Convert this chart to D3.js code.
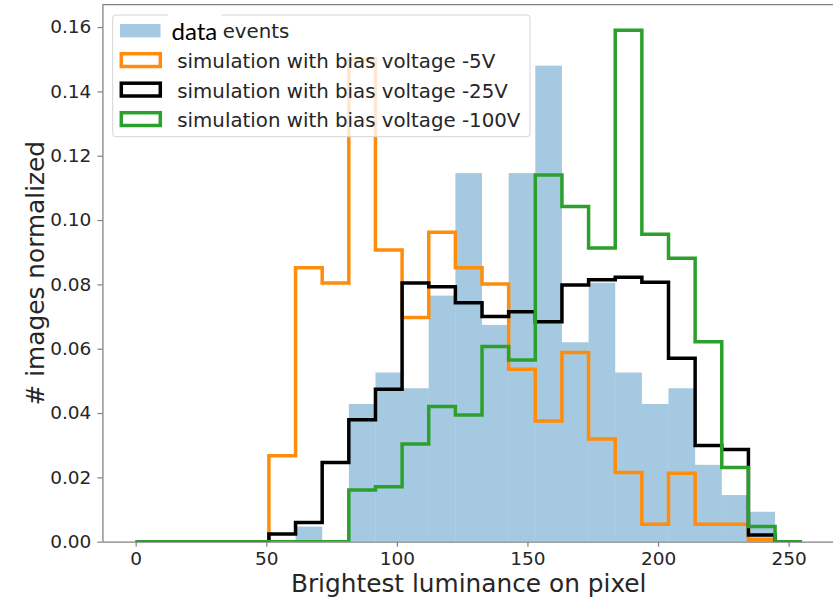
<!DOCTYPE html>
<html>
<head>
<meta charset="utf-8">
<script src="https://cdn.jsdelivr.net/npm/d3@7"></script>
<style>
  body { margin: 0; background: #fff; }
  svg { display: block; }
</style>
</head>
<body>
<svg id="chart" width="833" height="599"></svg>
<script>
// Histogram bin edges (25 bins over 0..255)
const binEdges = [0, 10.2, 20.4, 30.6, 40.8, 51, 61.2, 71.4, 81.6, 91.8, 102, 112.2, 122.4,
  132.6, 142.8, 153, 163.2, 173.4, 183.6, 193.8, 204, 214.2, 224.4, 234.6, 244.8, 255];

// Normalized counts per bin
const dataEvents = [0, 0, 0, 0, 0, 0, 0.0047, 0, 0.0428, 0.0526, 0.0477, 0.0765, 0.1146,
  0.0674, 0.1146, 0.148, 0.062, 0.0805, 0.0526, 0.0428, 0.0477, 0.0239, 0.0145, 0.0093, 0];
const bias5V = [0, 0, 0, 0, 0, 0.0267, 0.0852, 0.0804, 0.150, 0.0907, 0.0697, 0.0962, 0.0852,
  0.0801, 0.0536, 0.0375, 0.0588, 0.0319, 0.0215, 0.0054, 0.0213, 0.0054, 0.0054, 0.0006, 0];
const bias25V = [0, 0, 0, 0, 0, 0.0024, 0.006, 0.0246, 0.0379, 0.0474, 0.0804, 0.0793, 0.0743,
  0.070, 0.0715, 0.0684, 0.0798, 0.0814, 0.0822, 0.0807, 0.057, 0.0299, 0.0287, 0.0021, 0];
const bias100V = [0, 0, 0, 0, 0, 0, 0, 0, 0.0161, 0.0171, 0.0304, 0.042, 0.0394,
  0.0607, 0.0565, 0.114, 0.1042, 0.0913, 0.159, 0.0956, 0.0881, 0.0622, 0.0231, 0.0047, 0];

const xTicks = [0, 50, 100, 150, 200, 250];
const yTicks = [0, 0.02, 0.04, 0.06, 0.08, 0.10, 0.12, 0.14, 0.16];

const stepSeries = [
  { label: "simulation with bias voltage -5V", values: bias5V, color: "#ff8c0a" },
  { label: "simulation with bias voltage -25V", values: bias25V, color: "#000000" },
  { label: "simulation with bias voltage -100V", values: bias100V, color: "#2ca02c" }
];

const svg = d3.select("#chart");
const plotLeft = 102.4, plotRight = 835, plotTop = 4.7, plotBottom = 541.7;

const x = d3.scaleLinear().domain([-12.75, 267.75]).range([plotLeft, plotRight]);
const y = d3.scaleLinear().domain([0, 0.16695]).range([plotBottom, plotTop]);

svg.append("defs").append("clipPath").attr("id", "plotClip")
  .append("rect").attr("x", plotLeft).attr("y", plotTop)
  .attr("width", plotRight - plotLeft).attr("height", plotBottom - plotTop);

const plot = svg.append("g").attr("clip-path", "url(#plotClip)");

// Filled histogram of measured events
plot.append("g").selectAll("rect")
  .data(dataEvents.map((v, i) => ({ x0: binEdges[i], x1: binEdges[i + 1], v })))
  .join("rect")
  .attr("x", d => x(d.x0))
  .attr("width", d => x(d.x1) - x(d.x0))
  .attr("y", d => y(d.v))
  .attr("height", d => y(0) - y(d.v))
  .attr("fill", "#1f77b4")
  .attr("fill-opacity", 0.4);

// Step outlines for the simulations
function stepPoints(values) {
  const pts = [[binEdges[0], 0]];
  values.forEach((v, i) => {
    pts.push([binEdges[i], v]);
    pts.push([binEdges[i + 1], v]);
  });
  pts.push([binEdges[binEdges.length - 1], 0]);
  return pts;
}
const line = d3.line().x(d => x(d[0])).y(d => y(d[1]));

stepSeries.forEach(s => {
  plot.append("path")
    .attr("d", line(stepPoints(s.values)))
    .attr("fill", "none")
    .attr("stroke", s.color)
    .attr("stroke-width", 3.5)
    .attr("stroke-linejoin", "miter");
});

// Axes
const axisColor = "#808080";
const textColor = "#262626";
const tickFont = "DejaVu Sans";

const xAxis = svg.append("g").attr("transform", `translate(0,${plotBottom})`)
  .call(d3.axisBottom(x).tickValues(xTicks).tickSize(5).tickSizeOuter(0).tickPadding(5).tickFormat(d3.format("d")));
const yAxis = svg.append("g").attr("transform", `translate(${plotLeft},0)`)
  .call(d3.axisLeft(y).tickValues(yTicks).tickSize(5).tickSizeOuter(0).tickPadding(6).tickFormat(d3.format(".2f")));

[xAxis, yAxis].forEach(a => {
  a.select(".domain").attr("stroke", axisColor).attr("stroke-width", 1.3);
  a.selectAll(".tick line").attr("stroke", axisColor).attr("stroke-width", 1.2);
  a.selectAll(".tick text").attr("fill", textColor)
    .style("font-family", tickFont).style("font-size", "18.5px");
});

// Top spine (right spine sits just outside the view)
svg.append("line").attr("x1", plotLeft).attr("x2", plotRight).attr("y1", plotTop).attr("y2", plotTop)
  .attr("stroke", axisColor).attr("stroke-width", 1.3);

// Axis titles
svg.append("text")
  .attr("x", (plotLeft + plotRight) / 2).attr("y", 591.7)
  .attr("text-anchor", "middle")
  .attr("fill", textColor)
  .style("font-family", tickFont).style("font-size", "24.8px")
  .text("Brightest luminance on pixel");

svg.append("text")
  .attr("transform", `translate(44,${(plotTop + plotBottom) / 2}) rotate(-90)`)
  .attr("text-anchor", "middle")
  .attr("fill", textColor)
  .style("font-family", tickFont).style("font-size", "24.8px")
  .text("# images normalized");

// Legend
const legend = svg.append("g");
legend.append("rect")
  .attr("x", 112.7).attr("y", 15).attr("width", 417.3).attr("height", 121.7)
  .attr("rx", 3).attr("fill", "#fff").attr("fill-opacity", 0.8)
  .attr("stroke", "#d4d4d4").attr("stroke-width", 1);

const rowCenters = [30.7, 60.1, 89.6, 119.1];
const legendFont = "19.8px";

legend.append("rect")
  .attr("x", 120).attr("y", rowCenters[0] - 6.7).attr("width", 40.5).attr("height", 13.4)
  .attr("fill", "#1f77b4").attr("fill-opacity", 0.4);
legend.append("text")
  .attr("x", 222.7).attr("y", rowCenters[0] + 7.6)
  .attr("fill", textColor)
  .style("font-family", tickFont).style("font-size", legendFont)
  .text("events");

stepSeries.forEach((s, i) => {
  const cy = rowCenters[i + 1];
  legend.append("rect")
    .attr("x", 121.3).attr("y", cy - 6.4).attr("width", 39).attr("height", 12.8)
    .attr("fill", "none").attr("stroke", s.color).attr("stroke-width", 3.5);
  legend.append("text")
    .attr("x", 177.3).attr("y", cy + 8)
    .attr("fill", textColor)
    .style("font-family", tickFont).style("font-size", legendFont)
    .text(s.label);
});

// "data" caption placed over the first legend entry
legend.append("rect")
  .attr("x", 168).attr("y", 11).attr("width", 53.5).attr("height", 33)
  .attr("fill", "#fff");
legend.append("text")
  .attr("x", 171.5).attr("y", 40)
  .attr("fill", "#000")
  .style("font-family", "Lato").style("font-size", "24px")
  .text("data");
</script>
</body>
</html>
